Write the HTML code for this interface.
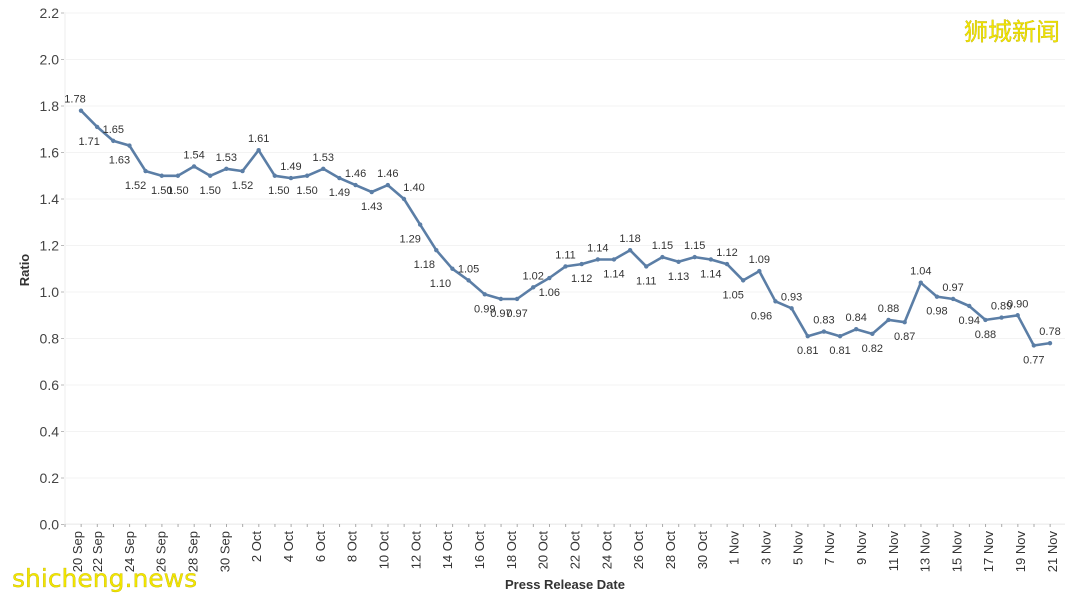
<!DOCTYPE html>
<html><head><meta charset="utf-8"><style>
html,body{margin:0;padding:0;background:#fff;}
svg{display:block;font-family:"Liberation Sans",sans-serif;}
</style></head><body>
<svg id="c" width="1080" height="598" xmlns="http://www.w3.org/2000/svg"></svg>
<script>
const s=document.getElementById('c');
let h='';
const y0=524.5, k=232.5;
const Y=v=>y0-v*k;
for(let i=0;i<=11;i++){const v=i*0.2,y=Y(v);
 h+=`<line x1="66" x2="1065" y1="${y}" y2="${y}" stroke="#f3f3f3" stroke-width="1"/>`;
 h+=`<text x="59" y="${y+5}" font-size="14" fill="#444" text-anchor="end">${v.toFixed(1)}</text>`;
 h+=`<line x1="61" x2="64" y1="${y}" y2="${y}" stroke="#bbb"/>`;
}
h+=`<line x1="65" x2="65" y1="12" y2="524" stroke="#ececec"/>`;
h+=`<line x1="65" x2="1065" y1="524" y2="524" stroke="#ececec"/>`;
for(let x=65;x<1065;x+=16.15){h+=`<line x1="${x}" x2="${x}" y1="524" y2="527" stroke="#aaa"/>`;}
const lab=["20 Sep","22 Sep","24 Sep","26 Sep","28 Sep","30 Sep","2 Oct","4 Oct","6 Oct","8 Oct","10 Oct","12 Oct","14 Oct","16 Oct","18 Oct","20 Oct","22 Oct","24 Oct","26 Oct","28 Oct","30 Oct","1 Nov","3 Nov","5 Nov","7 Nov","9 Nov","11 Nov","13 Nov","15 Nov","17 Nov","19 Nov","21 Nov"];
lab.forEach((t,i)=>{const x=i==0?77:97+31.83*(i-1);
 h+=`<text transform="translate(${x+5},531) rotate(-90)" font-size="13" fill="#333" text-anchor="end">${t}</text>`;});
h+=`<text transform="translate(29,270) rotate(-90)" font-size="13" font-weight="bold" fill="#333" text-anchor="middle">Ratio</text>`;
h+=`<text x="565" y="589" font-size="13" font-weight="bold" fill="#333" text-anchor="middle">Press Release Date</text>`;
const d=[1.78,1.71,1.65,1.63,1.52,1.50,1.50,1.54,1.50,1.53,1.52,1.61,1.50,1.49,1.50,1.53,1.49,1.46,1.43,1.46,1.40,1.29,1.18,1.10,1.05,0.99,0.97,0.97,1.02,1.06,1.11,1.12,1.14,1.14,1.18,1.11,1.15,1.13,1.15,1.14,1.12,1.05,1.09,0.96,0.93,0.81,0.83,0.81,0.84,0.82,0.88,0.87,1.04,0.98,0.97,0.94,0.88,0.89,0.90,0.77,0.78];
const pos=['a','b','a','b','b','b','b','a','b','a','b','a','b','a','b','a','b','a','b','a','a','b','b','b','a','b','b','b','a','b','a','b','a','b','a','b','a','b','a','b','a','b','a','b','a','b','a','b','a','b','a','b','a','b','a','b','b','a','a','b','a'];
const dxs={0:-6,1:-8,3:-10,4:-10,20:10,21:-10,22:-12,23:-12,41:-10,43:-14,12:4};
const X=i=>81+16.15*i;
let pts=d.map((v,i)=>X(i).toFixed(1)+','+Y(v).toFixed(1)).join(' ');
h+=`<polyline points="${pts}" fill="none" stroke="#5b7ea6" stroke-width="2.6" stroke-linejoin="round"/>`;
d.forEach((v,i)=>{const x=X(i),y=Y(v);
 h+=`<circle cx="${x}" cy="${y}" r="2.2" fill="#5b7ea6"/>`;
 let dx=dxs[i]||0;
 const ty=pos[i]=='a'?y-8:y+18;
 h+=`<text x="${x+dx}" y="${ty}" font-size="11" fill="#333" text-anchor="middle">${v.toFixed(2)}</text>`;});
h+=`<text x="1012" y="40" font-size="24" fill="#f2e600" stroke="#b8a800" stroke-width="0.3" text-anchor="middle" font-family="'Noto Sans CJK SC',sans-serif">狮城新闻</text>`;
h+=`<text x="12" y="587" font-size="25" fill="#f2e600" stroke="#b8a800" stroke-width="0.3" font-family="'DejaVu Sans',sans-serif">shicheng.news</text>`;
s.innerHTML=h;
</script>
</body></html>
